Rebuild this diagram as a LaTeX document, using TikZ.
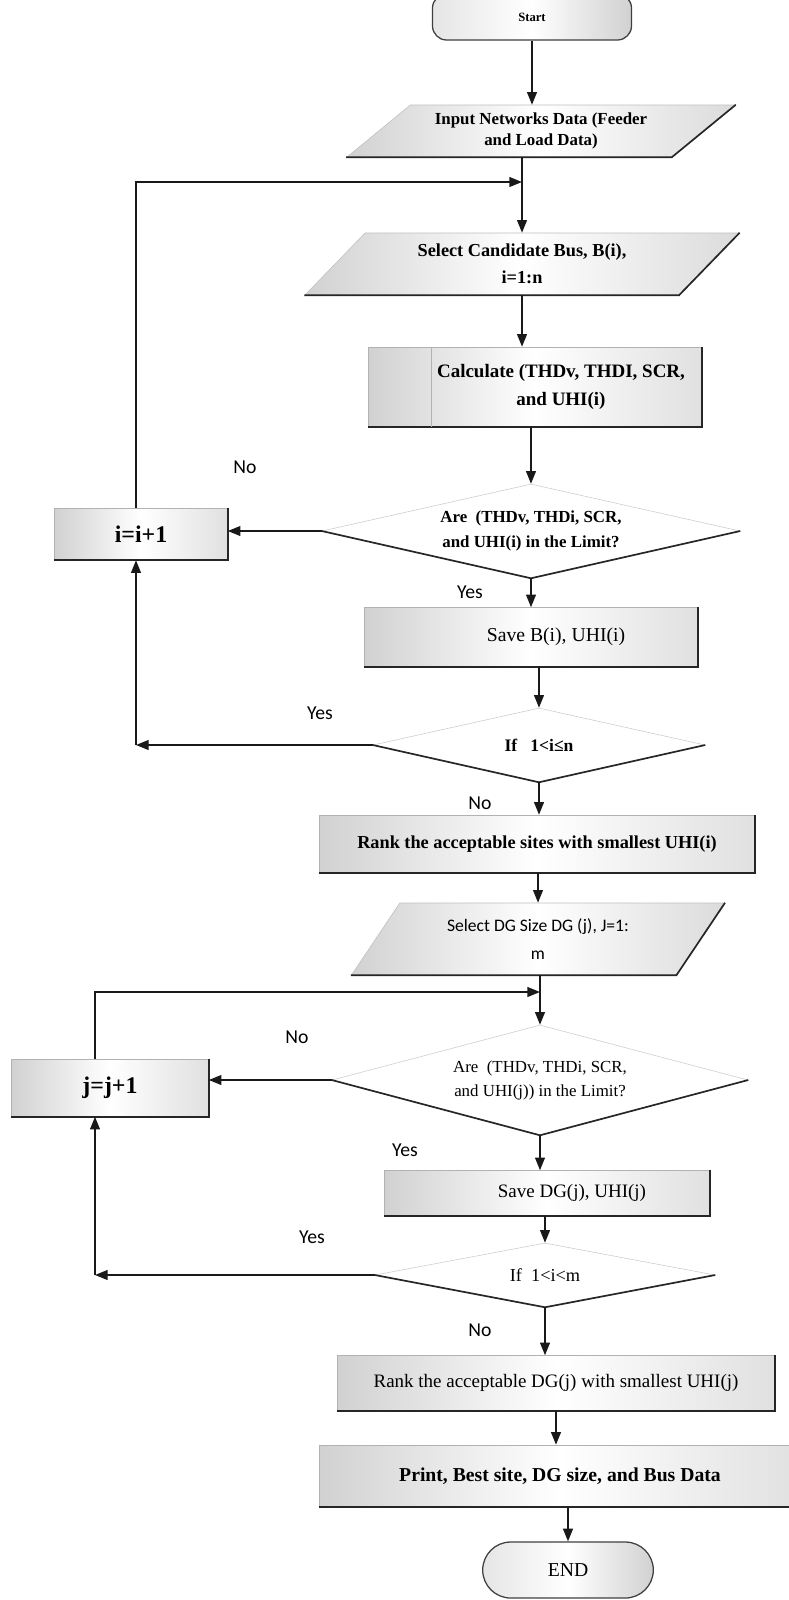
\documentclass[tikz,border=0pt]{standalone}
\usepackage{fontspec}
\setmainfont{Liberation Serif}
\newfontfamily\calib{Carlito}
\usetikzlibrary{shapes.geometric,shapes.misc,arrows.meta,positioning}
\newdimen\pxu \pxu=0.025cm
\newcommand{\fsz}[2]{\fontsize{#1}{#2}\selectfont}
\tikzset{
  blk/.style={rectangle,draw=black!30,left color=black!18,right color=black!12,
              middle color=white,align=center,inner sep=3pt},
  io/.style={trapezium,trapezium stretches body,draw=black!25,left color=black!18,
             right color=black!14,middle color=white,align=center,inner sep=2pt},
  dec/.style={diamond,draw=black!20,fill=white,align=center,inner sep=0pt},
  term/.style={rounded rectangle,draw=black!75,line width=0.9pt,left color=black!10,
               right color=black!18,middle color=white,align=center},
  rim/.style={draw=black!85,line width=1.2pt},
  arr/.style={-{Triangle[length=9pt,width=7pt]},line width=1.1pt,draw=black!90},
  lbl/.style={font=\calib\fsz{14}{16}},
}
\begin{document}
\begin{tikzpicture}[x=0.025cm,y=-0.025cm]
  \useasboundingbox (0,0) rectangle (789,1600);
  % upper loop over the candidate buses
  \node[term,rectangle,rounded corners=10pt,minimum width=199\pxu,minimum height=46\pxu,
        font=\bfseries\fsz{9}{11}]
    (start) at (532,17) {Start};
  \node[io,trapezium left angle=34,trapezium right angle=146,minimum width=388\pxu,
        minimum height=52\pxu,font=\bfseries\fsz{12}{15.5}]
    (input) at (541,131) {Input Networks Data (Feeder\\and Load Data)};
  \node[io,trapezium left angle=37,trapezium right angle=143,minimum width=434\pxu,
        minimum height=62\pxu,font=\bfseries\fsz{13}{19}]
    (select) at (522,264) {Select Candidate Bus, B(i),\\i=1:n};
  \node[blk,minimum width=333\pxu,minimum height=80\pxu,font=\bfseries\fsz{13.5}{20}]
    (calc) at (535,387) {\hspace*{52\pxu}Calculate (THDv, THDI, SCR,\\\hspace*{52\pxu}and UHI(i)};
  \node[dec,minimum width=418\pxu,minimum height=94\pxu,aspect=4.4,font=\bfseries\fsz{12}{17.5}]
    (d1) at (531,531) {Are\ \ (THDv, THDi, SCR,\\and UHI(i) in the Limit?};
  \node[blk,minimum width=173\pxu,minimum height=52\pxu,font=\bfseries\fsz{17}{20}]
    (ibox) at (141,534) {i=i+1};
  \node[blk,minimum width=333\pxu,minimum height=59\pxu,font=\fsz{14}{17}]
    (save) at (531,637) {\hspace*{50\pxu}Save B(i), UHI(i)};
  \node[dec,minimum width=332\pxu,minimum height=74\pxu,aspect=4.5,font=\bfseries\fsz{12.5}{15}]
    (d2) at (539,745) {If\ \ \ 1<i≤n};
  \node[blk,minimum width=435\pxu,minimum height=58\pxu,font=\bfseries\fsz{13}{16}]
    (rank) at (537,844) {Rank the acceptable sites with smallest UHI(i)};
  % lower loop over the DG sizes
  \node[io,trapezium left angle=44,trapezium right angle=136,minimum width=373\pxu,
        minimum height=72\pxu,font=\calib\fsz{12.5}{20}]
    (seldg) at (538,939) {Select DG Size DG (j), J=1:\\m};
  \node[dec,minimum width=416\pxu,minimum height=110\pxu,aspect=3.8,font=\fsz{12}{17}]
    (d3) at (540,1080) {Are\ \ (THDv, THDi, SCR,\\and UHI(j)) in the Limit?};
  \node[blk,minimum width=197\pxu,minimum height=57\pxu,font=\bfseries\fsz{17}{20}]
    (jbox) at (110,1088) {j=j+1};
  \node[blk,minimum width=325\pxu,minimum height=45\pxu,font=\fsz{13.5}{16}]
    (savedg) at (547,1193) {\hspace*{50\pxu}Save DG(j), UHI(j)};
  \node[dec,minimum width=340\pxu,minimum height=64\pxu,aspect=5.3,font=\fsz{13}{15}]
    (d4) at (545,1275) {If\ \ 1<i<m};
  \node[blk,minimum width=438\pxu,minimum height=55\pxu,font=\fsz{13.5}{16}]
    (rankdg) at (556,1383) {Rank the acceptable DG(j) with smallest UHI(j)};
  \node[blk,minimum width=482\pxu,minimum height=62\pxu,font=\bfseries\fsz{14}{17}]
    (print) at (560,1476) {Print, Best site, DG size, and Bus Data};
  \node[term,minimum width=180\pxu,minimum height=56\pxu,font=\fsz{14}{16}]
    (end) at (568,1570) {END};
  % dark lower edges of the scanned shapes
  \foreach \n in {calc,ibox,save,rank,jbox,savedg,rankdg,print}
    \draw[rim] (\n.south west) -- (\n.south east) -- (\n.north east);
  \foreach \n in {input,select,seldg}
    \draw[rim] (\n.bottom left corner) -- (\n.bottom right corner) -- (\n.top right corner);
  \foreach \n in {d1,d2,d3,d4}
    \draw[rim] (\n.west) -- (\n.south) -- (\n.east);
  \draw[black!30] (calc.north west) ++(63,0) coordinate (calcsep)
    (calcsep) -- (calcsep |- calc.south);
  % loop corners
  \coordinate (loopi) at (522,182);
  \coordinate (cornI) at (136,747);
  \coordinate (loopj) at (540,992);
  \coordinate (cornJ) at (95,1275);
  % connectors
  \draw[arr] (start.south) -- (start.south |- input.north);
  \draw[arr] (input.south -| select.north) -- (select.north);
  \draw[arr] (cornI |- ibox.north) |- (loopi);
  \draw[arr] (select.south) -- (select.south |- calc.north);
  \draw[arr] (calc.south -| d1.north) -- (d1.north);
  \draw[arr] (d1.west) -- (d1.west -| ibox.east);
  \draw[arr] (d1.south) -- (d1.south |- save.north);
  \draw[arr] (save.south -| d2.north) -- (d2.north);
  \draw[arr] (d2.west) -- (cornI |- d2.west);
  \draw[arr] (cornI |- d2.west) -- (cornI |- ibox.south);
  \draw[arr] (d2.south) -- (d2.south |- rank.north);
  \draw[arr] (rank.south -| seldg.north) -- (seldg.north);
  \draw[arr] (seldg.south -| d3.north) -- (d3.north);
  \draw[arr] (cornJ |- jbox.north) |- (loopj);
  \draw[arr] (d3.west) -- (d3.west -| jbox.east);
  \draw[arr] (d3.south) -- (d3.south |- savedg.north);
  \draw[arr] (savedg.south -| d4.north) -- (d4.north);
  \draw[arr] (d4.west) -- (cornJ |- d4.west);
  \draw[arr] (cornJ |- d4.west) -- (cornJ |- jbox.south);
  \draw[arr] (d4.south) -- (d4.south |- rankdg.north);
  \draw[arr] (rankdg.south) -- (rankdg.south |- print.north);
  \draw[arr] (print.south -| end.north) -- (end.north);
  % branch labels
  \node[lbl] (noA) at (245,467) {No};
  \node[lbl] (yesA) at (470,592) {Yes};
  \node[lbl] (yesB) at (320,713) {Yes};
  \node[lbl] (noB) at (480,803) {No};
  \node[lbl] (noC) at (297,1037) {No};
  \node[lbl] (yesC) at (405,1150) {Yes};
  \node[lbl] (yesD) at (312,1237) {Yes};
  \node[lbl] (noD) at (480,1330) {No};
\end{tikzpicture}
\end{document}
